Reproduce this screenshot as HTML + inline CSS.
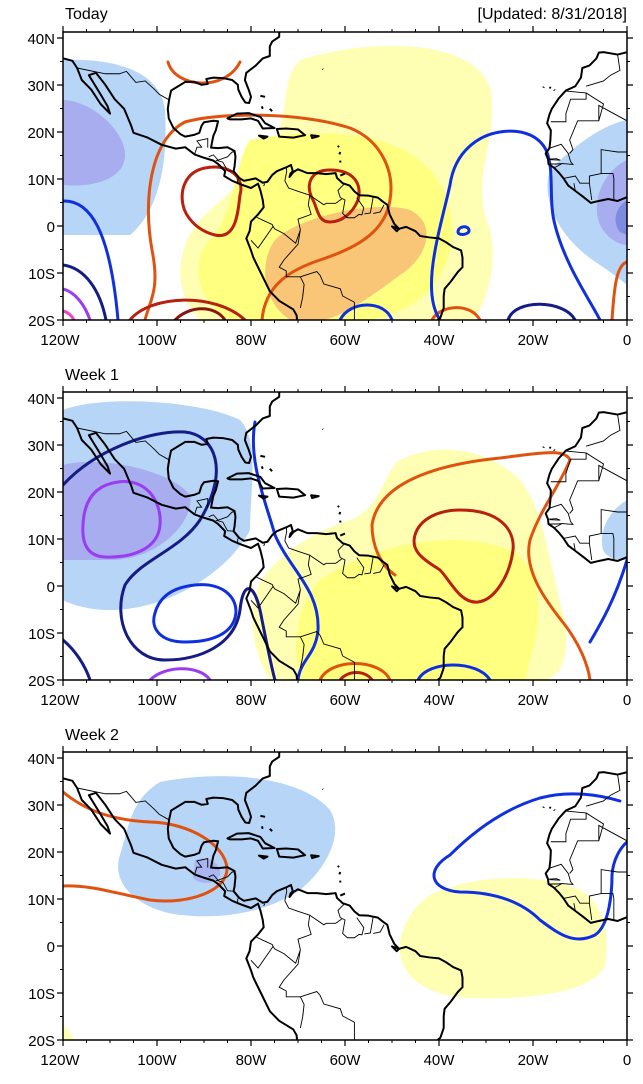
<!DOCTYPE html>
<html><head><meta charset="utf-8"><style>
html,body{margin:0;padding:0;background:#fff;}
svg{display:block;font-family:"Liberation Sans",sans-serif;}
</style></head><body>
<svg width="643" height="1084" viewBox="0 0 643 1084" xmlns="http://www.w3.org/2000/svg">
<defs>
<clipPath id="c"><rect x="63" y="32" width="564" height="288"/></clipPath>
<g id="coast" fill="none" stroke="#000" stroke-width="2" stroke-linejoin="round">
<g transform="translate(63,32) scale(4.7,4.8) translate(120,40)">
<g transform="scale(1,-1)">
<path vector-effect="non-scaling-stroke" d="M-120,34.5 L-118,34 L-117,32.5 L-116,30 L-114,28 L-112,25 L-110,23 L-110.5,24.5 L-112,27 L-114.5,31 L-113,31.5 L-111,29 L-109,26 L-107,24 L-105.5,20.5 L-105,19 L-102,18 L-99,16.5 L-96,15.7 L-94,16 L-92,14.5 L-90,13.8 L-88,13.2 L-87,12.5 L-85.5,11 L-85.7,10 L-84,9 L-82,8.2 L-80,7.5 L-78.5,8.4 L-78,7 L-77.5,5 L-77.3,3.5 L-78.5,2 L-80,0.5 L-80.3,-1.5 L-81,-3 L-80,-5.5 L-79.5,-7 L-78,-10 L-76,-14 L-74,-16 L-71,-17.8 L-70.3,-19 L-70.2,-20"/>
<path vector-effect="non-scaling-stroke" d="M-74,40 L-74,39 L-75.5,38 L-76,37 L-76,35 L-77.5,34.5 L-79,33 L-81,31.5 L-81.3,30 L-80.5,28 L-80,26.5 L-80.4,25.2 L-81.2,25.3 L-82,26.5 L-82.7,28 L-82.8,29 L-84,30 L-86,30.4 L-88,30.5 L-89.5,30.2 L-89.2,29.2 L-90.5,29 L-92,29.6 L-94,29.6 L-95.5,28.7 L-97,27.8 L-97.4,26 L-97.7,24 L-97.5,22 L-96.5,20 L-95,18.7 L-94,18.2 L-92,18.6 L-91,19 L-90.5,20.5 L-90,21.2 L-88,21.5 L-87,21.4 L-87.5,19.5 L-88,18.4 L-88.3,17 L-88.5,15.9 L-87,15.8 L-85,16 L-83.5,15.2 L-83.3,14 L-83.5,12 L-83.7,11 L-82.5,9.6 L-81.5,9 L-80,9.3 L-79,9.5 L-77.5,8.6 L-76.5,8.8 L-75.5,10.2 L-74.5,11 L-72.5,11.8 L-71.5,12.3 L-71.1,11 L-71.6,10.5 L-71.8,9.8 L-71,10.8 L-70,11.4 L-68,10.6 L-66,10.6 L-64,10.4 L-62,10.6 L-61.7,9.6 L-60.5,8.5 L-59,8 L-58,6.8 L-57,6 L-55,5.9 L-53,5.5 L-52,4.7 L-51,4 L-50.5,2 L-50,1 L-49.5,0 L-48.5,-1 L-47,-0.6 L-45,-1.5 L-44,-2.5 L-42,-2.8 L-40,-3 L-38.5,-3.8 L-37,-4.8 L-35.3,-5.5 L-35,-7 L-35,-9 L-36,-10 L-37.5,-12 L-38.8,-13.5 L-39,-15 L-39,-17.5 L-39.7,-19.5 L-40.3,-20"/>
<path vector-effect="non-scaling-stroke" d="M-85,22 L-83,23 L-80.5,23.1 L-78,22.3 L-77,21 L-75,20 L-77.5,19.9 L-78.5,21.5 L-80,22 L-82,21.8 L-84.5,21.8 Z M-74.5,19.8 L-72.5,19.9 L-70,19.7 L-68.5,18.5 L-71,18 L-74,18.2 Z M-78.3,18.4 L-76.5,18.2 L-77.3,17.8 Z M-67.2,18.5 L-65.6,18.3 L-67,17.9 Z M-78,26.7 L-77,26.5 M-77.7,24.5 L-77.5,24 M-76,24 L-75.5,23.5 M-61,15 L-61.2,14.5 M-61,13.2 L-61,12.8 M-61.5,16.3 L-61.3,16 M-60,10.5 L-61,10.1 M-50,-0.5 L-48.5,-1 L-49,-1.5 Z M-64.8,32.3 L-64.7,32.2 M-16.5,28.5 L-16.2,28.3 M-15.5,28 L-15.4,27.8 M-17.7,28.6 L-17.8,28.4"/>
<path vector-effect="non-scaling-stroke" d="M0,35.8 L-2,35.3 L-5,35.8 L-6,35.7 L-6.5,34.5 L-8,33 L-9.5,32.5 L-9.8,30.5 L-11,28.7 L-13,27.8 L-14.5,26.2 L-16,24 L-16.5,22.8 L-17,21 L-16.2,19.5 L-16.3,17.5 L-16.5,15.8 L-17.3,14.7 L-16.8,13.5 L-16.7,12.5 L-15.5,11.7 L-14.5,10.7 L-13.5,9.5 L-12.5,8 L-11,6.9 L-9.5,5.8 L-7.7,4.4 L-6,4.8 L-4,5.2 L-2,4.8 L0,5.6"/>
</g></g></g>
<g id="borders" fill="none" stroke="#000" stroke-width="0.9">
<g transform="translate(63,32) scale(4.7,4.8) translate(120,40)"><g transform="scale(1,-1)">
<path vector-effect="non-scaling-stroke" d="M-117,32.5 L-111,31.3 L-108,31.3 L-106.5,31.8 L-104.5,29.5 L-102.5,29.8 L-100.5,28 L-99.5,27 L-97.5,25.9 M-92,14.5 L-91.5,16 L-90.5,16 L-91.5,17.3 L-89.2,17.8 L-89.2,15.9 M-89,14 L-88,14.4 L-87,13.3 L-85,14 L-84,15 L-83.3,15 M-87.5,13.3 L-86,12.9 L-85,11.1 L-83.8,11 M-82.8,9.5 L-82.9,8.3 M-77.3,7.9 L-77.1,8.4 M-72.5,11.8 L-72.4,11 L-72.8,9 L-72,7.5 L-70,6.8 L-67.5,6 L-67.8,4 L-67.2,2 L-70,1 L-69.5,-1.2 L-70.5,-4 L-73,-2 L-75,-1 L-75.5,-0.1 L-77.5,0.8 L-78.8,1.4 M-80,-3.4 L-78.5,-5 L-75.3,-0.5 M-60,8.5 L-61.5,7 L-61,5.5 L-60,5 L-60.5,2.2 L-59.5,1.3 L-58,1.3 L-57,2 L-56.4,1.9 L-56,3.4 L-57.5,5.5 M-54,5.7 L-54.6,2.3 L-55.9,2.1 M-51.7,4 L-52.5,2.5 L-54,2.2 M-67.5,6 L-64.5,4 L-64,4.3 L-62,4.3 L-60.7,5.2 M-69.5,-1.2 L-70,-4.2 L-73,-7.5 L-74,-9 L-72.5,-9.8 L-72.5,-11 L-69.5,-11 L-68.7,-12.6 L-69,-15.2 L-69.5,-17.5 M-69.5,-11 L-66,-9.9 L-65.3,-10.7 L-64.5,-12.5 L-61,-13.5 L-60.5,-15 L-58,-16.3 L-58,-20 M-68.7,-12.6 L-69,-15 M-16.5,15.8 L-14,16.6 L-12.5,14.7 L-12,13 L-11.5,12.4 L-13.7,12.6 L-15,12.5 L-16.7,12.5 M-15.5,11.7 L-13.8,12.6 M-13.5,9.5 L-11,10 L-10,8.5 L-8,8.5 L-7.5,5 M-11,6.9 L-11.3,8.5 M-16.8,13.5 L-15,13.6 L-14.2,13.3 L-16.4,13.4 M-12.2,14.7 L-11.5,15.5 L-12.2,17.5 L-10.5,21.5 L-6,21.5 L-5,25 L-8.7,27.3 L-13,27.7 M-16.2,21.3 L-13,21.3 L-13,23 L-12,26 L-8.7,26 L-8.7,27.3 M-6,21.5 L-6,24.7 L0,21.5 M-5.5,10.5 L-3,10.5 L-2.8,9.5 L-2.8,5 M-5.5,10.5 L-5.5,15.5 L-2,15 L0,15 M-8,8.5 L-8,10 L-5.5,10.5 M-2,35.3 L-1.5,32 L-3.5,31 L-5,29.8 L-8.7,28.7"/>
</g></g></g>
</defs>

<!-- ============ PANEL 1 ============ -->
<g clip-path="url(#c)">
<path fill="#ffffb3" d="M300,60 C380,35 490,40 492,100 C495,150 470,180 490,230 C500,270 480,320 470,320 L200,320 C170,290 175,240 210,210 C240,185 260,160 275,140 C290,110 280,80 300,60Z"/>
<path fill="#ffff80" d="M250,140 C300,130 390,125 430,170 C455,200 460,240 440,275 C420,310 380,320 360,320 L230,320 C195,300 190,260 210,240 C235,215 235,160 250,140Z"/>
<path fill="#f9c677" d="M275,240 C300,215 380,200 410,210 C440,225 425,260 400,275 C380,290 340,320 320,320 L290,320 C260,300 260,260 275,240Z"/>
<path fill="#b7d5f7" d="M63,60 C100,58 160,65 165,110 C168,160 160,210 130,235 L63,235Z"/>
<path fill="#a7adef" d="M63,100 C90,100 125,130 125,155 C125,180 90,188 63,185Z"/>
<path fill="#b7d5f7" d="M627,120 C600,125 570,150 550,170 C540,200 560,240 600,265 C615,275 627,285 627,285Z"/>
<path fill="#a7adef" d="M627,160 C605,170 590,200 600,225 C608,240 620,245 627,245Z"/>
<path fill="#7d8ce0" d="M627,200 C615,208 612,222 620,232 L627,235Z"/>
<g fill="none" stroke-width="3" stroke-linecap="round">
<path stroke="#e0520f" d="M168,62 C175,88 225,92 240,62"/>
<path stroke="#e0520f" d="M145,320 C150,300 160,290 152,250 C143,200 150,140 185,122 C220,112 300,112 350,128 C380,140 395,170 390,200 C385,235 350,250 320,260 C290,270 265,285 262,320"/>
<path stroke="#b82010" d="M205,168 C230,163 245,178 240,195 C238,210 237,240 215,235 C195,230 185,215 183,205 C180,190 185,172 205,168Z"/>
<path stroke="#b82010" d="M330,170 C355,170 362,185 358,200 C352,215 340,222 330,222 C318,222 318,210 313,200 C305,185 310,170 330,170Z"/>
<path stroke="#b82010" d="M130,320 C150,295 215,292 245,320"/>
<path stroke="#8a1510" d="M175,320 C190,305 215,305 225,320"/>
<path stroke="#e0520f" d="M432,320 C440,305 470,302 480,320"/>
<path stroke="#e0520f" d="M612,320 C614,290 616,265 627,262"/>
<path stroke="#1030e0" d="M440,320 C420,290 440,230 450,185 C455,150 480,135 500,132 C525,128 540,138 546,150 C555,170 548,200 555,225 C565,265 590,300 600,320"/>
<path stroke="#1030e0" d="M63,201 C90,200 110,230 118,320"/>
<path stroke="#1030e0" d="M340,320 C350,300 385,300 392,320"/>
<path stroke="#1030e0" d="M458,232 C458,226 468,225 469,230 C470,235 458,236 458,232Z"/>
<path stroke="#151c85" d="M63,265 C85,268 100,290 106,320"/>
<path stroke="#151c85" d="M508,320 C515,298 565,300 575,320"/>
<path stroke="#9a3cf0" d="M63,289 C75,292 85,305 90,320"/>
<path stroke="#ee44c8" d="M63,311 C68,312 72,316 74,320"/>
</g>
<use href="#coast"/><use href="#borders"/>
</g>

<!-- ============ PANEL 2 ============ -->
<g transform="translate(0,360)"><g clip-path="url(#c)">
<path fill="#b7d5f7" d="M63,50 C100,35 200,40 240,60 C260,80 250,130 250,170 C230,210 170,250 110,250 C80,250 63,240 63,240Z"/>
<path fill="#a7adef" d="M63,105 C100,95 170,110 190,135 C195,160 160,200 110,200 L63,200Z"/>
<path fill="#ffffb3" d="M400,100 C440,80 490,90 520,120 C545,150 550,210 565,260 C570,300 560,320 540,320 L270,320 C250,290 245,240 265,215 C290,185 320,170 350,160 C380,150 385,110 400,100Z"/>
<path fill="#ffff80" d="M320,220 C380,180 460,170 510,190 C540,205 545,250 530,300 L525,320 L300,320 C290,280 300,240 320,220Z"/>
<path fill="#b7d5f7" d="M627,140 C610,150 598,170 603,190 C608,200 620,200 627,200Z"/>
<g fill="none" stroke-width="3" stroke-linecap="round">
<path stroke="#151c85" d="M63,125 C95,90 150,70 185,72 C215,75 230,110 200,160 C180,190 140,200 125,225 C112,260 130,300 165,300 C200,300 235,285 240,250 C243,220 255,220 262,260 C268,290 272,310 275,320"/>
<path stroke="#151c85" d="M63,280 C75,290 85,305 90,320"/>
<path stroke="#9a3cf0" d="M118,122 C145,118 162,140 160,165 C158,190 130,198 105,197 C85,196 82,180 83,165 C84,140 95,125 118,122Z"/>
<path stroke="#1030e0" d="M195,225 C225,222 240,240 235,258 C230,275 210,282 185,282 C160,282 150,268 155,253 C160,235 175,227 195,225Z"/>
<path stroke="#9a3cf0" d="M150,320 C165,305 200,305 210,320"/>
<path stroke="#1030e0" d="M255,62 C248,100 265,140 275,175 C290,210 320,230 318,270 C316,295 300,300 298,320"/>
<path stroke="#1030e0" d="M590,282 C600,265 615,240 627,200"/>
<path stroke="#1030e0" d="M418,320 C428,300 478,300 490,320"/>
<path stroke="#e0520f" d="M372,165 C378,125 430,105 500,98 C540,93 565,88 570,100 C560,125 540,150 530,180 C523,210 545,240 565,265 C580,285 588,305 590,320"/>
<path stroke="#e0520f" d="M372,165 C372,185 380,205 395,215"/>
<path stroke="#b82010" d="M460,150 C500,150 515,170 513,190 C510,215 495,240 478,242 C460,244 450,220 440,210 C425,200 410,192 415,175 C420,158 440,150 460,150Z"/>
<path stroke="#e0520f" d="M320,320 C330,298 380,298 390,320"/>
<path stroke="#b82010" d="M340,320 C348,310 365,310 372,320"/>
</g>
<use href="#coast"/><use href="#borders"/>
</g></g>

<!-- ============ PANEL 3 ============ -->
<g transform="translate(0,720)"><g clip-path="url(#c)">
<path fill="#b7d5f7" d="M160,62 C220,50 300,55 330,90 C345,115 325,150 300,170 C270,190 230,200 180,195 C140,190 110,165 120,135 C128,110 130,80 160,62Z"/>
<path fill="#a9b4f0" d="M195,140 C210,135 222,145 220,155 C215,165 200,165 193,158Z"/>
<path fill="#ffffb3" d="M430,175 C470,155 540,152 580,170 C605,185 610,215 605,245 C595,270 540,280 470,278 C420,276 395,250 400,220 C405,200 415,185 430,175Z"/>
<path fill="#ffffb3" d="M63,305 C68,308 72,315 74,320 L63,320Z"/>
<g fill="none" stroke-width="3" stroke-linecap="round">
<path stroke="#e0520f" d="M63,72 C85,90 110,100 150,102 C190,103 225,125 227,148 C228,170 190,185 150,180 C110,172 90,165 63,166"/>
<path stroke="#1030e0" d="M620,81 C600,75 570,70 540,78 C500,90 470,115 450,135 C425,150 430,170 460,172 C500,172 525,185 540,200 C560,215 575,225 595,215 C610,205 612,170 612,155 C613,140 620,128 627,122"/>
</g>
<use href="#coast"/><use href="#borders"/>
</g></g>

<!-- frames & axes -->
<g id="ax">
<rect x="63" y="32" width="564" height="288" fill="none" stroke="#000" stroke-width="1.5"/>
<g stroke="#000" stroke-width="1.2">
<path d="M63,38h-6M63,85h-6M63,132h-6M63,179h-6M63,226h-6M63,273h-6M63,320h-6"/>
<path d="M63,320v6M157,320v6M251,320v6M345,320v6M439,320v6M533,320v6M627,320v6"/>
<path d="M63,32v-6M157,32v-6M251,32v-6M345,32v-6M439,32v-6M533,32v-6M627,32v-6"/>
<path d="M627,38h6M627,85h6M627,132h6M627,179h6M627,226h6M627,273h6M627,320h6"/>
</g>
<g stroke="#000" stroke-width="1">
<path d="M86.5,320v3M110,320v3M133.5,320v3M180.5,320v3M204,320v3M227.5,320v3M274.5,320v3M298,320v3M321.5,320v3M368.5,320v3M392,320v3M415.5,320v3M462.5,320v3M486,320v3M509.5,320v3M556.5,320v3M580,320v3M603.5,320v3"/>
<path d="M86.5,32v-3M110,32v-3M133.5,32v-3M180.5,32v-3M204,32v-3M227.5,32v-3M274.5,32v-3M298,32v-3M321.5,32v-3M368.5,32v-3M392,32v-3M415.5,32v-3M462.5,32v-3M486,32v-3M509.5,32v-3M556.5,32v-3M580,32v-3M603.5,32v-3"/>
<path d="M63,61.5h-3M63,108.5h-3M63,155.5h-3M63,202.5h-3M63,249.5h-3M63,296.5h-3M627,61.5h3M627,108.5h3M627,155.5h3M627,202.5h3M627,249.5h3M627,296.5h3"/>
</g>
<g font-size="15" fill="#000" text-anchor="end">
<text x="55" y="44">40N</text><text x="55" y="91">30N</text><text x="55" y="138">20N</text><text x="55" y="185">10N</text><text x="55" y="232">0</text><text x="55" y="279">10S</text><text x="55" y="326">20S</text>
</g>
<g font-size="15" fill="#000" text-anchor="middle">
<text x="60" y="345">120W</text><text x="157" y="345">100W</text><text x="251" y="345">80W</text><text x="345" y="345">60W</text><text x="439" y="345">40W</text><text x="533" y="345">20W</text><text x="627" y="345">0</text>
</g>
</g>
<use href="#ax" y="360"/>
<use href="#ax" y="720"/>
<g font-size="16" fill="#000">
<text x="65" y="19">Today</text>
<text x="627" y="19" text-anchor="end">[Updated: 8/31/2018]</text>
<text x="65" y="380">Week 1</text>
<text x="65" y="740">Week 2</text>
</g>
</svg>
</body></html>
